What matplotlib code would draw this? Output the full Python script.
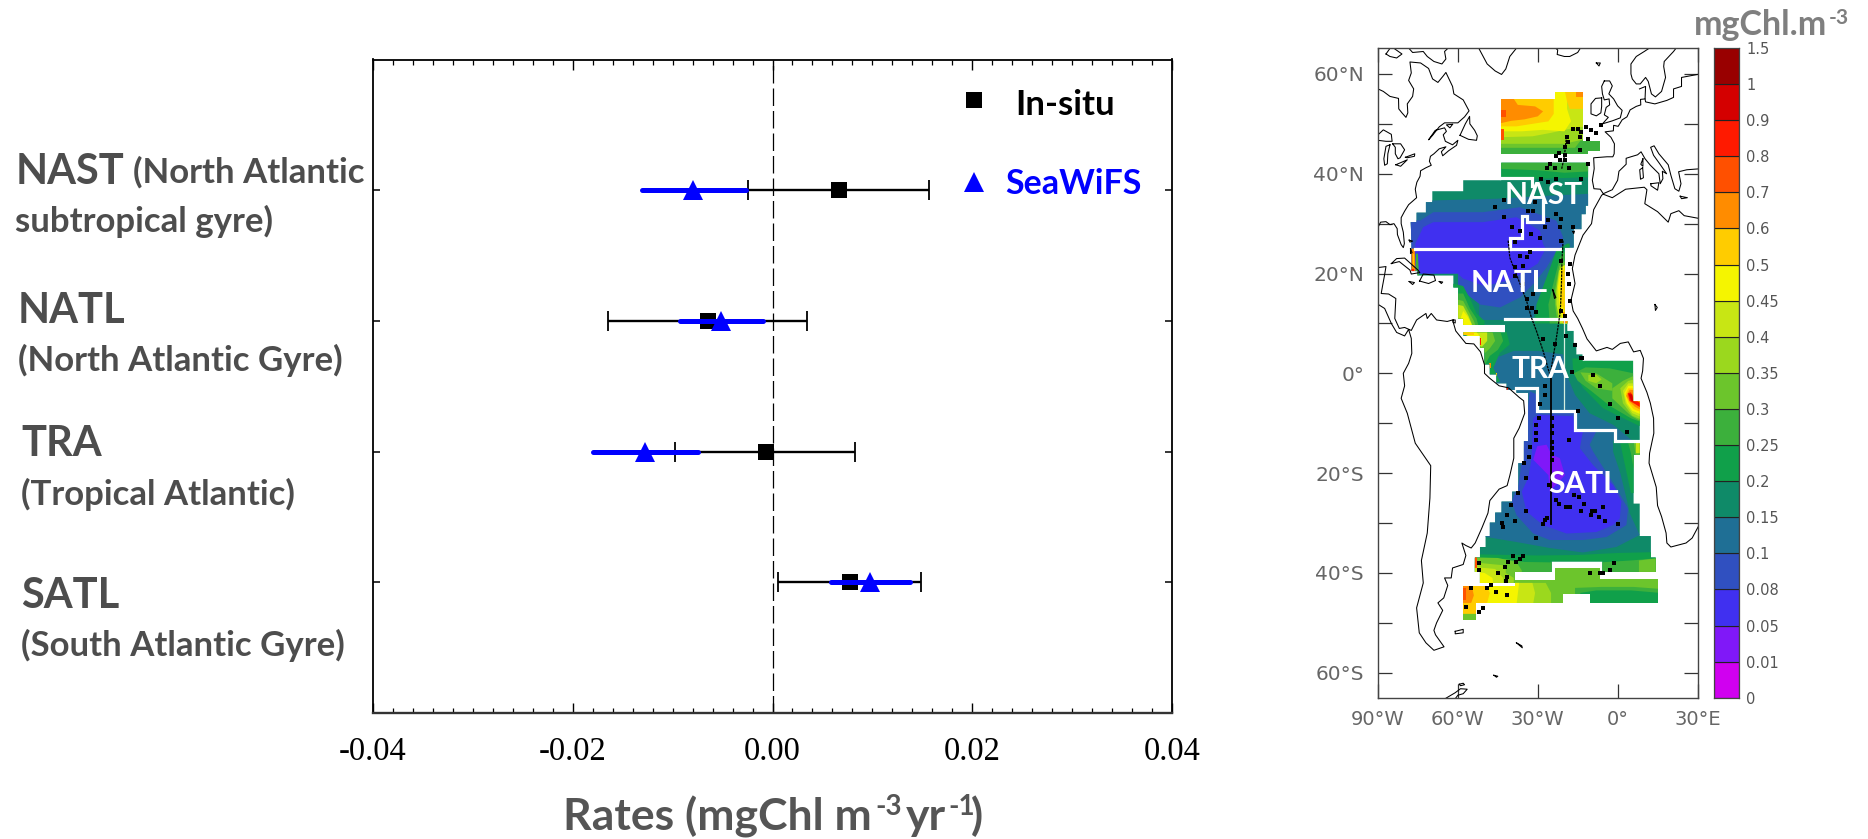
import matplotlib
matplotlib.use("Agg")
import matplotlib.pyplot as plt
from matplotlib.patches import Polygon, PathPatch
from matplotlib.path import Path
from matplotlib.ticker import FixedLocator, MultipleLocator

W, H = 1868, 839

# ---------- rates chart ----------
regions = ["NAST", "NATL", "TRA", "SATL"]
insitu_mean = [0.00665, -0.0065, -0.0007, 0.0078]
insitu_low = [-0.00246, -0.0165, -0.0098, 0.0006]
insitu_high = [0.0157, 0.0035, 0.0083, 0.0149]
seawifs_mean = [-0.00797, -0.0052, -0.0128, 0.0098]
seawifs_low = [-0.01304, -0.0093, -0.0180, 0.0059]
seawifs_high = [-0.0027, -0.0010, -0.0075, 0.0138]
rate_ticks = [-0.04, -0.02, 0.0, 0.02, 0.04]
rate_labels = ["-0.04", "-0.02", "0.00", "0.02", "0.04"]

# ---------- colour scale ----------
scale_labels = ["0", "0.01", "0.05", "0.08", "0.1", "0.15", "0.2", "0.25", "0.3", "0.35",
                "0.4", "0.45", "0.5", "0.6", "0.7", "0.8", "0.9", "1", "1.5"]
scale_colors = ["#d000f0", "#8018f8", "#4030f0", "#3050c0", "#1f6f95", "#0f8a68", "#10a04a",
                "#3cb03c", "#6cc52c", "#9bd81e", "#c8e614", "#f5f500", "#ffcc00", "#ff8c00",
                "#ff5000", "#ff1a00", "#d40000", "#990000"]

# ---------- chlorophyll field, outer limits (lon, lat) ----------
mask_north = [(-43.7,55),(-23.6,55),(-23.6,56.4),(-13,56.4),(-13,46.6),(-6.7,46.6),(-6.7,44.6),
              (-11,44.6),(-11,43.9),(-43.7,43.9)]
mask_main = [(-43.7,42.2),(-11.1,42.2),(-11.1,33.6),(-12,33.6),(-12,31.9),(-13.6,31.9),(-13.6,28.9),
             (-16.5,28.9),(-16.5,25.2),(-19.9,25.2),(-19.9,11),(-18.9,11),(-18.9,8.5),(-16.5,8.5),
             (-16.5,6.1),(-15.5,6.1),(-15.5,3.8),(-13.2,3.8),(-13.2,2.5),(5.8,2.5),(5.8,-5.6),(8.3,-5.6),
             (8.3,-16.3),(6,-16.3),(6,-26.1),(8.3,-26.1),(8.3,-32.6),(12.5,-32.6),(12.5,-36.9),(14.3,-36.9),
             (14.3,-39.8),(-5.7,-39.8),(-5.7,-37.7),(-24.8,-37.7),(-24.8,-39.8),(-38.6,-39.8),(-38.6,-42),
             (-51.7,-42),(-51.7,-39.8),(-53.6,-39.8),(-53.6,-36.9),(-51.7,-36.9),(-51.7,-34.8),(-49.6,-34.8),
             (-49.6,-32.6),(-48,-32.6),(-48,-29.9),(-46,-29.9),(-46,-27.9),(-43.6,-27.9),(-43.6,-25.7),
             (-39.6,-25.7),(-39.6,-23.7),(-37.3,-23.7),(-37.3,-18),(-35.2,-18),(-35.2,-13.6),(-33.6,-13.6),
             (-33.6,-3.9),(-38,-3.9),(-38,-3.3),(-41.7,-3.3),(-41.7,-2),(-45.5,-2),(-45.5,-0.2),(-48,-0.2),
             (-48,1.8),(-50,1.8),(-50,5.1),(-51.7,5.1),(-51.7,7.5),(-58,7.5),(-58,8.2),(-42.3,8.2),(-42.3,9.7),
             (-58,9.7),(-58,11),(-59.9,11),(-59.9,17.2),(-61.7,17.2),(-61.7,19.6),(-75.2,19.6),(-75.2,20.5),
             (-77.4,20.5),(-77.4,25.6),(-77.7,30.3),(-75.5,30.3),(-75.5,32.2),(-72,32.2),(-72,34.3),
             (-69.6,34.3),(-69.6,36.5),(-58,36.5),(-58,38.7),(-43.7,38.7)]
mask_lower = [(-58,-42.7),(-38.6,-42.7),(-38.6,-41.5),(-23.6,-41.5),(-23.6,-39.1),(-6.7,-39.1),(-6.7,-41.3),
              (15.2,-41.3),(15.2,-46),(-10.2,-46),(-10.2,-44.2),(-20.5,-44.2),(-20.5,-46),(-53.2,-46),
              (-53.2,-49.5),(-58,-49.5)]

# level index into scale_colors, outline (lon, lat); painted in order, clipped to the limits above
bands_north = [
    (8, [(-45,57),(0,57),(0,43),(-45,43)]),
    (7, [(-45,45.2),(-16,45.2),(-14,46.6),(-5,47),(-5,43),(-45,43)]),
    (9, [(-45,57),(-12,57),(-12,47),(-20,46),(-30,46),(-45,46)]),
    (10, [(-45,57),(-12,57),(-12,49.5),(-18,49),(-25,48.2),(-32,47.5),(-45,47.3)]),
    (11, [(-45,57),(-19,57),(-19,53),(-17.5,50.5),(-20,48.5),(-28,48.8),(-36,48.5),(-45,48.5)]),
    (12, [(-45,57),(-24,57),(-24,52),(-26,50.5),(-32,50),(-38,49.5),(-45,49.5)]),
    (12, [(-20,57),(-12,57),(-12,53),(-18,53),(-19,54.5)]),
    (13, [(-45,55),(-39,55),(-37.5,53.8),(-31,53.5),(-28,52.5),(-30,51.5),(-35,50.9),(-40,50.6),(-45,50)]),
    (13, [(-15.5,57),(-13,57),(-13,55.3),(-15.5,55.3)]),
    (14, [(-45,52.8),(-42,52.8),(-42,51.4),(-45,51.4)]),
    (14, [(-45,49),(-42.7,49),(-42.7,46.8),(-45,46.8)]),
]
bands_main = [
    (6, [(-45,39.3),(-30,39),(-10,39.3),(-10,43),(-45,43)]),
    (7, [(-45,43),(-10,43),(-10,40.5),(-20,40.2),(-30,40.7),(-45,41)]),
    (4, [(-80,34.5),(-45,35),(-30,35.5),(-10,36),(-10,24.9),(-19,24.9),(-22,24),(-25.5,19.2),(-29.2,15.2),
         (-31.7,11),(-31.7,10.7),(-52,10.7),(-52,15),(-60,20),(-80,20)]),
    (3, [(-80,31),(-74.2,30.6),(-69.2,32.3),(-50.5,32.3),(-36.7,33.3),(-23,30.6),(-20.5,27.3),(-20.5,25.6),
         (-23,24.6),(-26.7,21.2),(-31.7,17.9),(-36.7,15.2),(-44.2,13.2),(-51.7,13.8),(-59.9,17.2),(-60,20),(-80,20)]),
    (2, [(-76,26),(-73,29.3),(-69.2,30.3),(-50.5,30.3),(-38,31.3),(-29.2,28.6),(-28,25.9),(-27,25),(-30,22),
         (-36,20),(-42,18.5),(-50,17.5),(-58,19),(-60,20),(-76,20)]),
    (6, [(-62,18),(-58,17.5),(-55,14.5),(-53,12),(-50,10.5),(-50,9),(-62,9)]),
    (7, [(-62,16),(-58,16),(-55.5,13),(-53,11),(-52,9),(-62,9)]),
    (8, [(-62,15),(-58,14.5),(-56,12.5),(-54,10.5),(-53,9),(-62,9)]),
    (10, [(-62,14),(-58,13.5),(-56,11.5),(-54.5,9.5),(-62,9)]),
    (11, [(-58,12.5),(-56.5,11.5),(-55,10),(-54.5,9),(-58,9),(-59,11)]),
    (6, [(-19,26),(-23,24.6),(-26.7,19.2),(-30.5,13.8),(-31,10),(-18,10),(-18,26)]),
    (7, [(-19,25),(-21.7,23.2),(-24.2,17.9),(-26,13.8),(-25.5,10),(-18,10)]),
    (8, [(-19,23),(-21.9,21.5),(-23.6,16.5),(-23.5,13.8),(-22.5,10),(-18,10)]),
    (10, [(-19,22),(-22,20.6),(-23,16.5),(-23,13.8),(-21.7,10),(-18,10)]),
    (11, [(-19,22),(-21.4,21.2),(-22.4,17.2),(-22,14.5),(-20.5,10),(-18,10)]),
    (12, [(-19,21),(-21,20.6),(-21,13.8),(-19,11)]),
    (13, [(-20.6,12.2),(-18,12.2),(-18,10),(-20.6,10)]),
    (4, [(-55,5),(-49.2,4.5),(-44.2,3.4),(-39,4.5),(-30,4.5),(-20.5,3.8),(-19.2,-0.2),(-16,-4.3),(-10.5,-8),
         (-1.7,-10.3),(5.8,-13.6),(-1.7,-13.5),(-1.7,-15.7),(1,-20),(3.3,-25),(4.5,-28),(8.3,-32.4),(-0.5,-34.8),
         (-13,-35.9),(-25.5,-35),(-38,-33.8),(-49.2,-32.8),(-55,-32)]),
    (6, [(-58,8.3),(-41.7,8.3),(-40.5,5.8),(-44.2,4.1),(-46.7,1.1),(-44.2,-1.6),(-48,-2.3),(-51.7,4.5)]),
    (7, [(-58,8.3),(-44,8.3),(-43,6.5),(-45,4.7),(-48,3.5),(-50,1.5),(-52,4)]),
    (8, [(-58,8.3),(-47,8.3),(-46,6.5),(-48,5),(-50,4),(-53,5)]),
    (10, [(-58,8.3),(-49,8.3),(-49,6.5),(-51,5.3),(-53,6)]),
    (11, [(-58,8.3),(-53,8.3),(-51,6.8),(-52,5.8),(-54,6.5)]),
    (12, [(-58,8.3),(-54,8.3),(-54,7.6),(-58,7.6)]),
    (15, [(-52.2,7),(-51.3,7),(-51.3,5.6),(-52.2,5.6)]),
    (13, [(-48.2,2),(-47.6,2),(-47.6,1),(-48.2,1)]),
    (12, [(-45.8,0.1),(-45.2,0.1),(-45.2,-0.6),(-45.8,-0.6)]),
    (15, [(-42,-2.9),(-41,-2.9),(-41,-3.5),(-42,-3.5)]),
    (6, [(-17,3),(10,3),(10,-11),(3.3,-9.3),(-5.5,-7),(-13,-2.9),(-16.7,0.4)]),
    (7, [(-16.5,0),(-12,1.2),(-3,1),(6,0),(10,0),(10,-10),(5,-9),(-3,-6.5),(-10,-3.5),(-15,-1.5)]),
    (8, [(-14,0.2),(-8,0),(-5,-1),(-2,-2),(-2,-3.5),(-8,-3),(-12,-1.5)]),
    (8, [(-2,-3),(2,-1.5),(6,-0.5),(10,-1),(10,-10),(5,-8.5),(1,-6.5),(-2,-5)]),
    (9, [(-11,-0.3),(-8,-0.3),(-6,-1.2),(-8,-2),(-11,-1.5)]),
    (9, [(1,-3),(4,-1.5),(8,-1),(10,-1),(10,-9.5),(5.5,-8.5),(2,-6)]),
    (10, [(2,-3.5),(4,-2),(10,-2),(10,-9),(5.5,-8),(3,-6)]),
    (11, [(2.5,-4),(4,-2.5),(10,-2.5),(10,-8.5),(5.5,-7.5),(3.5,-6)]),
    (12, [(3,-4.2),(4,-3),(10,-3),(10,-8),(6,-7.2),(4,-5.8)]),
    (13, [(3.2,-4.5),(4.5,-3.3),(10,-3.5),(10,-7.7),(6.5,-6.7),(4.5,-5.7)]),
    (15, [(3.8,-4),(5,-3.8),(6,-5),(10,-6.5),(10,-7.3),(7,-6.3),(4.5,-5.5)]),
    (16, [(4.2,-4.2),(5.5,-4.2),(5.8,-5.5),(7,-6),(5,-5.4)]),
    (6, [(1,-14),(10,-14),(10,-24),(5,-24),(3,-19)]),
    (7, [(4,-14),(10,-14),(10,-18),(6,-19),(5,-16)]),
    (8, [(6,-14),(10,-14),(10,-17),(7,-17)]),
    (10, [(7,-14),(10,-14),(10,-16),(7,-16)]),
    (3, [(-34,-8.3),(-33,-3.6),(-30.5,-4.2),(-30.2,-8),(-16.1,-8),(-15.5,-11.3),(-8,-11.6),(-10.5,-14.3),
         (-9.2,-15.7),(-1.2,-22.4),(3.9,-27.1),(3.3,-30.4),(-4.2,-32.8),(-13,-33.4),(-25.5,-33.4),(-31.7,-32.1),
         (-38,-28.4),(-39.8,-25.7),(-37.3,-22.4),(-36,-17.7),(-35.2,-13.6)]),
    (2, [(-31.7,-9),(-29.8,-8.3),(-16.7,-8.6),(-16,-11.6),(-13,-11.6),(-14.2,-15),(-9.2,-18.4),(-1.7,-22.4),
         (1.4,-25.7),(0.8,-29.1),(-1.7,-30.4),(-8,-31.8),(-19.2,-32.1),(-28,-30.4),(-34.2,-27.7),(-36,-23.7),
         (-33.6,-21),(-32.3,-17)]),
    (1, [(-30.2,-14.6),(-26.7,-14.3),(-24.8,-16.3),(-21.7,-17),(-19.8,-20.4),(-25.5,-23.7),(-26,-20.4),(-31.7,-17.3)]),
    (6, [(-60,-36.2),(-30,-36.5),(-15,-36.4),(0,-36),(16,-35.8),(20,-45),(-60,-45)]),
    (7, [(-60,-37),(-42,-37.2),(-35,-37.8),(-10,-38),(5,-37.5),(16,-37),(20,-45),(-60,-45)]),
    (8, [(8,-37.5),(16,-37),(16,-41),(8,-41)]),
    (8, [(-60,-36.8),(-45,-37),(-38,-37.8),(-36,-39.5),(-36,-45),(-60,-45)]),
    (9, [(-60,-37.5),(-48,-38.2),(-42,-38.5),(-42,-40),(-39,-41),(-39,-45),(-60,-45)]),
    (10, [(-60,-38.5),(-50,-39),(-46,-39.2),(-43,-41),(-43,-45),(-60,-45)]),
    (11, [(-60,-39.5),(-50,-40),(-47,-41),(-46,-45),(-60,-45)]),
    (14, [(-55,-36.9),(-53,-36.9),(-53,-39),(-55,-39)]),
    (13, [(-78,25),(-76.2,25),(-75.9,20.5),(-78,20.5)]),
    (12, [(-77,24),(-76.3,24),(-76.3,21.5),(-77,21.5)]),
    (7, [(-75.8,24),(-75,24),(-74.6,19.6),(-75.8,19.6)]),
    (15, [(-78,20.9),(-76.5,20.9),(-76.5,19.4),(-78,19.4)]),
]
bands_lower = [
    (8, [(-60,-38),(20,-38),(20,-50),(-60,-50)]),
    (7, [(-16,-43),(-6,-42.8),(6,-42.8),(16,-43.2),(16,-50),(-16,-50)]),
    (6, [(-14,-44),(-8,-43.5),(5,-43.5),(16,-44),(16,-50),(-14,-50)]),
    (9, [(-60,-42),(-27,-42),(-25,-44),(-25,-47),(-60,-47)]),
    (10, [(-60,-42),(-32,-42),(-31,-44),(-32,-47),(-60,-47)]),
    (11, [(-60,-42),(-37,-42),(-38,-46.5),(-60,-46.5)]),
    (12, [(-60,-42),(-50,-42),(-48,-44),(-49,-46),(-51,-47),(-51,-48.2),(-60,-48.2)]),
    (13, [(-60,-42),(-55,-42),(-54,-44.5),(-55,-46),(-60,-46)]),
    (14, [(-58,-43),(-57,-43),(-57,-45.5),(-58,-45.5)]),
]

# ---------- province limits and sampling ----------
province_lines = [
    [(-76.1,24.9),(-21.7,24.9)],
    [(-40.5,24.9),(-40.5,27.2),(-36,27.2),(-36,31.6),(-34.2,31.6),(-34.2,30.3),(-28,30.3),(-28,34.6)],
    [(-43.7,39.1),(-32.3,39.1),(-32.3,37.5)],
    [(-42.3,10.8),(-19,10.8)],
    [(-38,-3),(-30.2,-3),(-30.2,-7.6),(-16.1,-7.6),(-16.1,-11.3),(-1.1,-11.3),(-1.1,-13.5),(8.3,-13.5)],
]
pale_line_lon = [-20.3, -20.3]
pale_line_lat = [10.6, -7.6]
track_1 = [(-41.1,26.6),(-40.5,23.2),(-38.6,20.6),(-36.1,17.2),(-34.2,14.5),(-32.4,11.2),(-30.5,8.5),(-28,4.5),(-25.5,-0.2)]
track_2 = [(-20.5,26.6),(-20.9,22.6),(-21.1,17.9),(-21.5,12.5),(-23,7.1),(-24.9,1.1),(-25.2,-0.2)]
track_3 = [(-25.2,-0.2),(-25.2,-30.2)]
track_4 = [(-19.2,47.5),(-20,43.5),(-21,41)]
station_lon = [-29.5,-30.8,-30.8,-30.8,-33,-33.2,-35.2,-34.5,-37.3,-29.2,-27.3,-27.3,-24.8,-24.8,-24.8,-24.8,-24.8,-24.8,-24.8,-18.2,-14.8,0.2,3.5,-2.7,-6.5,-9.2,-17,-13.6,-23.2,-22,-19.5,-18,-16.3,-14.5,-12.6,-13.6,-9.8,-10.1,-8.6,-5.5,-7,-4.8,0.2,-26.7,-27.3,-28,-25.7,
               -41.5,-43.6,-43,-38.6,-34.5,-30.8,-39.2,-35.5,-36.7,-41,-38,-42.4,-44.8,-41.7,-42,-47.7,-49,-55.2,-45.5,-41.5,-57,-50.5,-52,-52,-52,-1.3,-2.7,-10.5,-6.7,-5.5,-40.1,
               -16.7,-14.9,-13.6,-9.9,-8,-6.1,-12,-14.2,-11.1,-14,-19.2,-18.6,-19.6,-22,-19.9,-23,-21.7,-19.6,-25.5,-23.6,-26.7,-18.2,-11.1,-28.6,-26.1,-23,-13.8,-42.7,-46.1,-42.7,-39.5,-36.7,-33.6,-31.1,-31.7,-26.1,-23,-21.1,-21.5,-16.7,-27.3,-21.1,-38.6,-32.4,-29.2,
               -36.7,-34.2,-33,-38.6,-35.7,-38.6,-35.7,-31.7,-34.2,-34.2,-32,-30.7,-28,-23.6,-21.1,-18,-18.6,-18.4,-18,-21.1,-19.6,-19.5,-16.1,-13.4]
station_lat = [-8.9,-10.4,-12,-13.4,-14.7,-16.7,-18,-21,-24,-6.1,-4.3,-2.6,-8.9,-10.6,-12,-13.7,-15,-16.2,-17.3,-13.3,-7.6,-8.9,-11.8,-6.1,-2.6,-0.4,0.3,3,-25.4,-26.1,-26.7,-26.7,-24.4,-24.7,-26.1,-27.5,-27.6,-28.3,-27.5,-26.7,-28.8,-29.6,-30.1,-28.9,-29.4,-30.1,-22.4,
               -28.3,-30,-30.7,-29.5,-27.5,-33,-36.6,-36.6,-37.3,-37.9,-37.9,-38.8,-40.1,-40.9,-41.7,-42.4,-43,-43,-43.8,-44.4,-46.9,-47,-47.9,-38.1,-39.5,-38,-39.5,-40.1,-40.1,-40.1,-26.4,
               48.9,48.9,48.4,48.7,48.2,49.7,49.4,47.4,46.9,44.8,47.4,46.4,45.4,44.2,43.7,43.5,42.7,42.7,41.9,41.2,41.2,41.2,42,39,38.3,39,39,34.8,33.3,31.4,29.3,28.6,32.6,34.3,32.6,30.8,32,31,29.3,29.3,29.3,26.6,26.3,27.9,27.1,
               23.6,23.4,24.3,21.4,21.6,19.6,17.9,16,14.9,13,13,12.2,6.8,5.8,22.6,22,19.9,17.9,14.4,12.4,11.5,7.5,5.7,3]

# ---------- coastlines ----------
coast_lines = [
    # Americas, Atlantic side from Hudson Bay to the Gulf
    [(-95,58.7),(-90,57),(-88,56.5),(-85.5,55.5),(-82.3,55.1),(-82.2,53),(-81,52.2),(-79.5,51.3),(-78.8,52.2),(-79,54),(-77,55.5),(-76.6,57),(-78.5,58.7),(-77.5,60.2),(-78,62.4),(-74,62.2),(-71,61.1),(-69.5,59),(-67.5,58.3),(-65.5,59.6),(-64.5,60.3),(-62,57.5),(-61.5,56),(-58,54.8),(-55.8,52.6),(-57.5,51.4),(-60,50.2),(-65,50.2),(-67,49.4),(-69.5,47.7),(-71,46.8),(-68.5,48.7),(-65,49.2),(-64.3,48.5),(-65.5,47.8),(-64.7,46.5),(-62,45.8),(-60,46.7),(-60.5,45.7),(-63.5,44.6),(-65.7,43.6),(-66.2,44.4),(-64.5,45.4),(-67,45),(-69,44),(-70.3,43.5),(-70.7,42.5),(-70,41.7),(-72,41.2),(-74,40.6),(-74.2,39.5),(-75.4,38.3),(-76,36.9),(-75.5,35.2),(-77,34.5),(-78.5,33.8),(-80,32.5),(-81.3,31.2),(-81.3,30),(-80.5,28.3),(-80.1,26),(-80.5,25.2),(-81.3,25.8),(-82.7,27.8),(-82.8,29),(-84,30),(-85.5,29.8),(-87,30.4),(-89,30.3),(-90,29.3),(-92,29.5)],
    # Central and South America
    [(-92,19),(-90,21.2),(-87,21.4),(-87.6,19.5),(-88.3,17.5),(-88.8,16),(-86,15.9),(-83.3,15),(-83.6,12),(-83.7,11),(-82,9),(-80,9.2),(-77.5,8.6),(-75.5,10.7),(-72,12),(-71.5,11),(-70,12),(-68,10.7),(-64,10.4),(-62,10.7),(-60.8,8.5),(-57,6),(-54,5.9),(-51.5,4.3),(-50,1.7),(-50,0),(-48,-1),(-44.5,-2.5),(-41,-2.9),(-37,-4.8),(-35.3,-5.5),(-34.9,-8),(-37,-11),(-39,-13),(-39,-17),(-40.5,-20.5),(-41.5,-22.5),(-44.5,-23.2),(-48,-25.5),(-48.7,-28),(-51,-31),(-53.5,-34),(-55,-35),(-57,-34.5),(-58.5,-34),(-57,-36.5),(-58,-38.3),(-62,-39),(-62.5,-41),(-65,-41),(-63.8,-42.5),(-65.3,-45),(-67.5,-46),(-65.7,-47.5),(-68,-50),(-69,-51.5),(-68.4,-52.4),(-65.2,-54.8),(-69,-55.5),(-72,-54),(-74.5,-52),(-75.5,-47),(-73,-42),(-73.7,-37.5),(-71.5,-32),(-70.5,-25),(-70.2,-18.5),(-76,-14),(-79,-8),(-81.3,-5),(-80,-2.5),(-80.5,0),(-78.5,2),(-77.3,4),(-77.5,7),(-78.5,8.8),(-80,7.5),(-83,8.2),(-85,10),(-87.5,13),(-92,14.5)],
    # Africa
    [(-5.4,35.9),(-6,35.7),(-9,32.8),(-9.8,30),(-13,27.7),(-16,23.7),(-17,21),(-16,18),(-17.5,14.7),(-16.7,12.5),(-15,11),(-13.2,9),(-11.5,6.9),(-8,4.5),(-4,5.2),(-2,4.8),(1,6),(4,6.3),(6,4.3),(8.5,4.6),(9.7,3),(9.4,0.5),(8.8,-1),(11,-3.8),(12.3,-6),(13.5,-9),(13.6,-12),(12,-16),(11.8,-18),(14.5,-22.8),(15,-26.5),(16.5,-28.7),(18.2,-32),(18.5,-34),(20,-34.8),(25.7,-34),(28,-33),(31,-30)],
    [(-5.4,35.9),(-2,35.2),(3,36.9),(10,37.3),(11,36.8),(10.2,34),(15,32.4),(19,30.3),(20,32),(23,32.6),(25,31.6),(31,31)],
    # Europe
    [(12,65.2),(10,64.5),(7,63.5),(5,62),(5,60),(5.5,59),(7,58),(8.5,58),(10.5,59.3),(11.5,58.5),(12.7,56),(14.2,55.4),(16.5,56.5),(18,59.3),(17.3,61.5),(17.5,62.5),(21,64.5),(22,65.2)],
    [(8.2,57),(10.5,57.5),(10.3,55),(8.6,54.9),(8.7,53.8),(7,53.5),(4.7,52.8),(3.5,51.4),(1.7,50.8),(0.2,49.5),(-1.5,49.7),(-1.6,48.6),(-4.7,48.4),(-2.5,47.3),(-1.2,46),(-1.3,44),(-1.8,43.4),(-4,43.4),(-9,43.2),(-8.8,41),(-9.5,38.7),(-8.9,37),(-6.5,36.9),(-5.4,36),(-2,36.8),(0,38.7),(0.5,40.5),(3.2,41.9),(3.2,43.1),(5,43.4),(7.5,43.8),(8.8,44.4),(10.3,43),(12.3,41.7),(15.5,40),(16,38),(17,39),(16.8,40.5),(18.4,40),(15.8,42),(13.5,43.7),(12.4,45.3),(13.7,45.6),(15.5,44),(19,41.8),(20,39.7),(21.5,37),(23,36.5),(23.8,38),(22.9,40.4),(26,40.8),(31,41)],
    [(10.3,55),(10.5,54.4),(14,54),(18.5,54.7),(21,55.3),(21,57),(24,57.5),(24,59.3),(31,60)],
    [(-5,58.6),(-3,58.6),(-2,57.6),(-3.3,56),(-1.5,55),(0,53.6),(1.7,52.7),(1,51.2),(-2,50.6),(-5.7,50),(-3.5,51.3),(-5,51.8),(-4.3,53.3),(-3,53.8),(-3.2,55),(-5,54.8),(-5.7,56),(-6,57.5),(-5,58.6)],
    [(-6,55.2),(-8.3,55.1),(-10,54),(-10,52),(-8,51.6),(-6.3,52.2),(-6,53.5),(-6,55.2)],
    [(9.4,41.2),(9.7,39.2),(8.6,38.9),(8.3,40.8),(9.4,41.2)],
    [(9.5,43),(9.5,41.5),(8.7,41.9),(9.5,43)],
    [(12.5,38),(15.5,38.2),(15,36.7),(12.5,37.6),(12.5,38)],
    [(23.5,35.5),(26.2,35.2),(24,35),(23.5,35.5)],
    # Newfoundland, Greenland, Iceland and the north
    [(-59.2,47.7),(-56,46.9),(-53,46.7),(-52.7,47.6),(-53.7,48.7),(-55.5,50),(-55.6,51.5),(-57.2,50),(-58.5,48.5),(-59.2,47.7)],
    [(-37.5,65.5),(-40.5,63.5),(-42,61),(-43.6,59.9),(-46,60.6),(-49,62),(-51,64),(-52.5,65.5)],
    [(-24,65.5),(-22.5,64.8),(-22.7,63.9),(-20,63.5),(-18,63.5),(-15,64.3),(-13.6,65.5)],
    [(-79,65.5),(-77,64.3),(-73,64.5),(-71.5,63.5),(-69,62.5),(-66,62),(-64.5,63),(-65,64.5),(-63,65.5)],
    [(-87,64),(-85,65.5),(-81,64),(-83,63.2),(-85.5,63.5),(-87,64)],
    [(-90,63.5),(-92,62.5)],
    [(-62,49.9),(-64.3,49.8),(-63,49.2),(-62,49.9)],
    # Great Lakes
    [(-90,47.8),(-88,48.8),(-85,47.9),(-84.7,46.5),(-87,46.5),(-90,46.7)],
    [(-85.5,45.8),(-87,45.5),(-87.8,43),(-87.5,41.7),(-86.5,42),(-86.3,44),(-85.5,45.8)],
    [(-84.5,46),(-81.5,46),(-80,44.8),(-81.7,43.2),(-82.5,43),(-83.5,44),(-83.5,45.3),(-84.5,46)],
    [(-83.3,41.8),(-79,42.8),(-81.5,41.5),(-83.3,41.8)],
    [(-79.7,43.3),(-76.2,44),(-76.3,43.5),(-79,43.2),(-79.7,43.3)],
    # Caribbean and Atlantic islands
    [(-85,22),(-83,23),(-80,23.1),(-75,20.7),(-74.3,20.2),(-77.5,19.9),(-78,20.7),(-82,22.4),(-85,22)],
    [(-74.4,18.5),(-73,19.9),(-69,19.7),(-68.4,18.6),(-71,18),(-74.4,18.5)],
    [(-78.3,18.4),(-76.3,18.2),(-77,17.8),(-78.3,18.4)],
    [(-67,18.4),(-65.7,18.3),(-66.2,18),(-67,18.4)],
    [(-78.3,26.7),(-77,26.5),(-78,26.3),(-78.3,26.7)],
    [(-77.8,25),(-77.2,24.2),(-77.8,24),(-77.8,25)],
    [(-61.8,10.7),(-61,10.7),(-61,10.1),(-61.8,10.2),(-61.8,10.7)],
    [(-16.8,28.4),(-16.2,28.5),(-16.5,28),(-16.8,28.4)],
    [(-24.4,16.8),(-23.2,15.2),(-23.7,15),(-24.4,16.8)],
    [(-8,62.2),(-6.5,62.2),(-7,61.6),(-8,62.2)],
    [(14,13.8),(14.9,13.2),(14.2,12.6),(14,13.8)],
    [(-61,-51.7),(-58,-51.3),(-58,-52),(-61,-52.2),(-61,-51.7)],
    [(-38,-54),(-36,-54.6),(-35.8,-55),(-38,-54)],
    [(-46.5,-60.5),(-45,-60.7),(-45.5,-60.9),(-46.5,-60.5)],
    [(-64.8,-65.2),(-61,-64),(-59,-63.2),(-56.5,-63.3),(-58,-64.2),(-60,-64.5),(-61,-65.2)],
    [(-59.5,-62.3),(-58,-62.1),(-57.5,-62.4),(-59,-62.6),(-59.5,-62.3)],
]
lat_ticks = [60, 50, 40, 30, 20, 10, 0, -10, -20, -30, -40, -50, -60]
lat_labels = {60: "60°N", 40: "40°N", 20: "20°N", 0: "0°", -20: "20°S", -40: "40°S", -60: "60°S"}
lon_ticks = [-90, -60, -30, 0, 30]
lon_labels = ["90°W", "60°W", "30°W", "0°", "30°E"]

# ---------- page text ----------
side_bold = [("NAST", 16, 184), ("NATL", 18, 323), ("TRA", 21, 456), ("SATL", 21, 608)]
side_small = [("(North Atlantic", 133, 183), ("subtropical gyre)", 15, 232), ("(North Atlantic Gyre)", 18, 371),
              ("(Tropical Atlantic)", 21, 505), ("(South Atlantic Gyre)", 21, 656)]
map_names = [("NAST", 1505, 204), ("NATL", 1471, 292), ("TRA", 1512, 378), ("SATL", 1548, 493)]

plt.rcParams["font.family"] = ["Lato", "DejaVu Sans"]
fig = plt.figure(figsize=(W / 100, H / 100), dpi=100, facecolor="white")


def box(x0, y0, x1, y1):
    return [x0 / W, 1 - y1 / H, (x1 - x0) / W, (y1 - y0) / H]


def put(x, y, s, **kw):
    kw.setdefault("fontweight", "bold")
    kw.setdefault("va", "baseline")
    return fig.text(x / W, 1 - y / H, s, **kw)


# ---- left panel ----
ax = fig.add_axes(box(373, 59.5, 1172, 713))
rows = list(range(len(regions)))
ax.axvline(0, color="black", lw=0.9, linestyle=(0, (14, 4)), zorder=1)
ax.errorbar(insitu_mean, rows,
            xerr=[[m - l for m, l in zip(insitu_mean, insitu_low)],
                  [h - m for m, h in zip(insitu_mean, insitu_high)]],
            fmt="none", ecolor="black", elinewidth=1.7, capsize=7.5, capthick=1.3, zorder=2)
ax.plot(insitu_mean, rows, "s", color="black", ms=12, mew=0, zorder=3)
for y, l, h in zip(rows, seawifs_low, seawifs_high):
    ax.plot([l, h], [y, y], color="#0000ff", lw=3.6, solid_capstyle="round", zorder=4)
ax.plot(seawifs_mean, rows, "^", color="#0000ff", ms=14.5, mew=0, zorder=5)
ax.set_xlim(-0.04, 0.04)
ax.set_ylim(4, -1)
ax.xaxis.set_major_locator(FixedLocator(rate_ticks))
ax.xaxis.set_minor_locator(MultipleLocator(0.002))
ax.set_xticklabels(rate_labels, fontfamily="Liberation Serif", fontsize=23.5)
ax.set_yticks(rows)
ax.set_yticklabels([])
ax.tick_params(axis="x", which="major", direction="in", top=True, bottom=True, length=7.5, width=1, pad=17)
ax.tick_params(axis="x", which="minor", direction="in", top=True, bottom=True, length=3.6, width=0.9)
ax.tick_params(axis="y", direction="in", left=True, right=True, length=5, width=1.1)
for s in ax.spines.values():
    s.set_linewidth(1.3)
ax.spines["bottom"].set_linewidth(1.7)
ax.spines["bottom"].set_color("#333333")

fig.add_artist(plt.Line2D([974 / W], [1 - 100 / H], marker="s", color="black", ms=12, mew=0,
                          transform=fig.transFigure))
fig.add_artist(plt.Line2D([974 / W], [1 - 182 / H], marker="^", color="#0000ff", ms=14.5, mew=0,
                          transform=fig.transFigure))
put(1015, 115, "In-situ", color="black", fontsize=25)
put(1005, 194, "SeaWiFS", color="#0000ff", fontsize=24.5)

for s, x, y in side_bold:
    put(x, y, s, color="#4d4d4d", fontsize=30)
for s, x, y in side_small:
    put(x, y, s, color="#4d4d4d", fontsize=25)

grey = "#555555"
put(563, 830, "Rates (mgChl m", color=grey, fontsize=32)
put(875, 815, "-3", color=grey, fontsize=20)
put(906, 830, "yr", color=grey, fontsize=32)
put(948, 815, "-1", color=grey, fontsize=20)
put(971, 830, ")", color=grey, fontsize=32)

# ---- map ----
mp = fig.add_axes(box(1378, 48, 1697.5, 697.7))
mp.set_xlim(-90, 30)
mp.set_ylim(-65, 65.2)


def paint(limit, bands, base=None):
    clip = PathPatch(Path(list(limit) + [limit[0]], closed=True),
                     facecolor=scale_colors[base] if base is not None else "none", edgecolor="none",
                     zorder=1)
    mp.add_patch(clip)
    for level, pts in bands:
        p = Polygon(pts, closed=True, facecolor=scale_colors[level], edgecolor="none", zorder=1.1)
        mp.add_patch(p)
        p.set_clip_path(clip)


paint(mask_north, bands_north, base=8)
paint(mask_main, bands_main, base=5)
paint(mask_lower, bands_lower, base=8)

for line in coast_lines:
    mp.plot([p[0] for p in line], [p[1] for p in line], color="black", lw=0.75, zorder=2)

mp.plot(pale_line_lon, pale_line_lat, color="#d5efe0", lw=0.9, zorder=2.5)
for tr in (track_1, track_2, track_4):
    mp.plot([p[0] for p in tr], [p[1] for p in tr], color="black", lw=0.9, ls=(0, (2, 0.7)), zorder=3)
mp.plot([p[0] for p in track_3], [p[1] for p in track_3], color="black", lw=1.3, zorder=3)
mp.scatter(station_lon, station_lat, marker="s", s=6, color="black", linewidths=0, zorder=3)
for line in province_lines:
    mp.plot([p[0] for p in line], [p[1] for p in line], color="white", lw=2.3,
            solid_joinstyle="miter", zorder=2.8)

mp.set_xticks(lon_ticks)
mp.set_xticklabels(lon_labels, fontfamily="DejaVu Sans", fontsize=14, color="#666666")
mp.set_yticks(lat_ticks)
mp.set_yticklabels([lat_labels.get(t, "") for t in lat_ticks], fontfamily="DejaVu Sans", fontsize=14.5,
                   color="#666666")
mp.tick_params(axis="both", direction="in", top=True, right=True, length=10, width=0.9, color="#333333")
mp.tick_params(axis="y", pad=10)
mp.tick_params(axis="x", pad=9)
for s in mp.spines.values():
    s.set_linewidth(1)
    s.set_color("#444444")

for s, x, y in map_names:
    put(x, y, s, color="white", fontsize=21.5, zorder=10)

# ---- colour scale ----
cb = fig.add_axes(box(1714, 48, 1739, 697.7))
for i, c in enumerate(scale_colors):
    cb.bar(0.5, 1, bottom=i, width=1, color=c, edgecolor="#222222", linewidth=0.8)
cb.set_xlim(0, 1)
cb.set_ylim(0, len(scale_colors))
cb.set_xticks([])
cb.set_yticks(range(len(scale_labels)))
cb.yaxis.tick_right()
cb.set_yticklabels(scale_labels, fontfamily="DejaVu Sans", fontsize=10.5, color="#555555")
cb.tick_params(axis="y", length=0, pad=5)
for s in cb.spines.values():
    s.set_linewidth(0.9)
    s.set_color("#444444")

put(1694, 35, "mgChl.m", color="#7f7f7f", fontsize=24.5)
put(1829, 24, "-3", color="#7f7f7f", fontsize=15)

fig.savefig("out.png", dpi=100, facecolor="white")
